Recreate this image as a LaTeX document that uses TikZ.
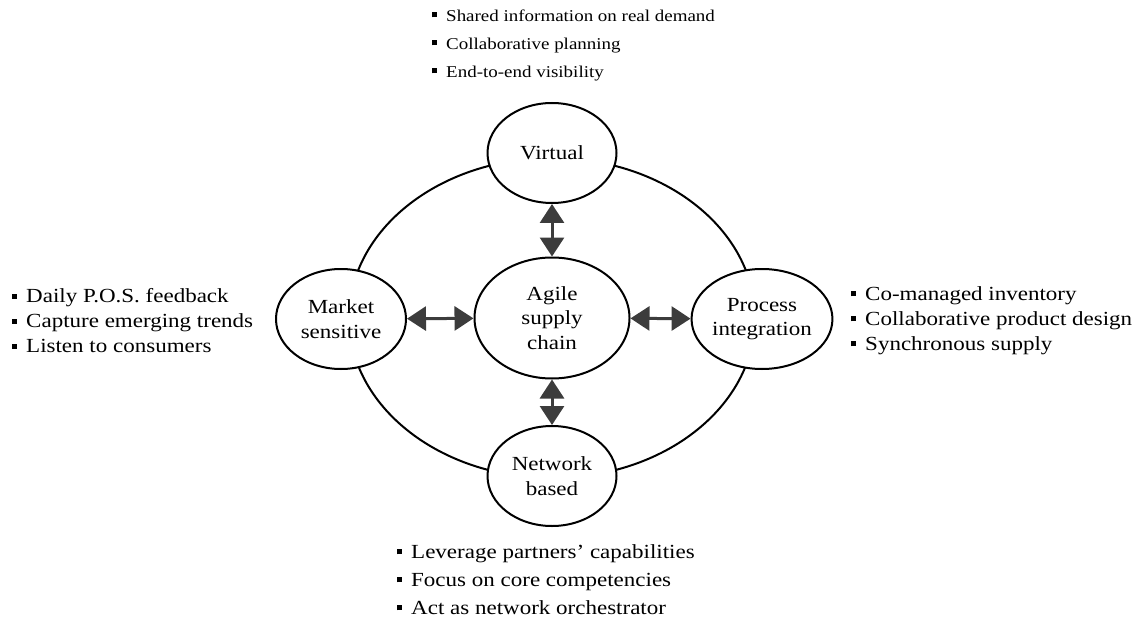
\documentclass[tikz,border=0pt]{standalone}
\usepackage{fontspec}
\setmainfont[FakeStretch=1.15]{Liberation Serif}
\usetikzlibrary{shapes.geometric,arrows.meta}
\definecolor{arrowgray}{HTML}{3C3C3C}
\newcommand\sqb{\raisebox{0.22em}{\rule{5pt}{5pt}}\hspace{9pt}}
\begin{document}
\begin{tikzpicture}[x=1pt,y=-1pt,
  ring/.style={line width=2pt},
  bub/.style={ellipse, draw, line width=2pt, fill=white, inner sep=0pt, align=center, font=\fontsize{20}{24.5}\selectfont},
  dbl/.style={line width=3pt, draw=arrowgray, {Triangle[width=24pt,length=19pt]}-{Triangle[width=24pt,length=19pt]}},
  lst/.style={anchor=west, align=left, inner sep=0pt}
]
\useasboundingbox (0,0) rectangle (1139,620);
\fill[white] (0,0) rectangle (1139,620);
% ring
\draw[ring] (552,318) ellipse [x radius=203pt, y radius=160pt];
% nodes
\node[bub, minimum width=129pt, minimum height=100pt] (V) at (552,153) {Virtual};
\node[bub, minimum width=155pt, minimum height=121pt] (A) at (552,318) {Agile\\supply\\chain};
\node[bub, minimum width=130pt, minimum height=100pt] (M) at (341,319) {Market\\sensitive};
\node[bub, minimum width=130pt, minimum height=100pt] (P) at (762,319) {Process\\integration};
\node[bub, minimum width=129pt, minimum height=100pt] (N) at (552,476) {Network\\based};
% arrows
\draw[dbl] (V) -- (A);
\draw[dbl] (A) -- (N);
\draw[dbl] (M) -- (A);
\draw[dbl] (A) -- (P);
% lists
\node[lst, font=\fontsize{16.5}{28}\selectfont] (T) at (432,45)
  {\sqb Shared information on real demand\\ \sqb Collaborative planning\\ \sqb End-to-end visibility};
\node[lst, font=\fontsize{20}{25}\selectfont] (L) at (12,321)
  {\sqb Daily P.O.S. feedback\\ \sqb Capture emerging trends\\ \sqb Listen to consumers};
\node[lst, font=\fontsize{20}{25}\selectfont] (R) at (851,321)
  {\sqb Co-managed inventory\\ \sqb Collaborative product design\\ \sqb Synchronous supply};
\node[lst, font=\fontsize{20}{28}\selectfont] (B) at (397,580)
  {\sqb Leverage partners' capabilities\\ \sqb Focus on core competencies\\ \sqb Act as network orchestrator};
\end{tikzpicture}
\end{document}
